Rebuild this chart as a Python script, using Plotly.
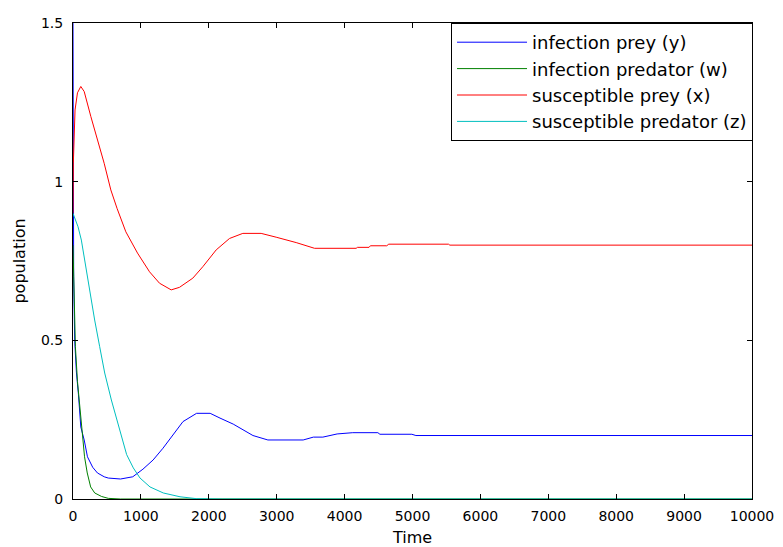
import plotly.graph_objects as go

# ---------------- data ----------------
t_y = [0, 4, 10, 25, 50, 80, 115, 165, 213, 290, 360, 460, 520, 700, 880, 1030, 1180,
       1325, 1470, 1620, 1820, 2020, 2165, 2360, 2650, 2870, 3390, 3540, 3680, 3890,
       4120, 4490, 4520, 4990, 5050, 6300, 6320, 7110, 7130, 10000]
infection_prey = [1.5, 1.0, 0.7, 0.5, 0.40, 0.33, 0.227, 0.186, 0.133, 0.10, 0.082, 0.07,
                  0.066, 0.063, 0.070, 0.094, 0.123, 0.16, 0.20, 0.244, 0.27, 0.27, 0.255,
                  0.236, 0.20, 0.186, 0.186, 0.195, 0.195, 0.205, 0.209, 0.209, 0.204,
                  0.204, 0.20, 0.20, 0.202, 0.202, 0.20, 0.20]

t_w = [0, 15, 35, 66, 125, 147, 170, 210, 260, 320, 420, 520, 700, 10000]
infection_predator = [0.8, 0.6, 0.48, 0.37, 0.227, 0.186, 0.133, 0.082, 0.038, 0.019,
                      0.008, 0.002, 0.0, 0.0]

t_x = [0, 5, 30, 66, 115, 165, 263, 361, 459, 557, 650, 778, 950, 1127, 1274, 1446, 1568,
       1765, 1912, 2109, 2305, 2501, 2771, 2992, 3287, 3557, 4170, 4190, 4360, 4380,
       4620, 4650, 5530, 5550, 10000]
susceptible_prey = [0.9, 1.058, 1.226, 1.28, 1.30, 1.284, 1.205, 1.132, 1.058, 0.974,
                    0.915, 0.842, 0.775, 0.716, 0.68, 0.659, 0.667, 0.696, 0.732, 0.785,
                    0.821, 0.837, 0.837, 0.825, 0.808, 0.79, 0.79, 0.793, 0.793, 0.798,
                    0.798, 0.803, 0.803, 0.80, 0.80]

t_z = [0, 74, 123, 172, 221, 270, 319, 393, 467, 565, 663, 720, 790, 888, 987, 1134,
       1330, 1576, 1820, 2200, 10000]
susceptible_predator = [0.90, 0.858, 0.816, 0.753, 0.69, 0.617, 0.564, 0.48, 0.397, 0.312,
                        0.235, 0.19, 0.14, 0.098, 0.066, 0.038, 0.019, 0.007, 0.001, 0.0, 0.0]

series_names = ["infection prey (y)", "infection predator (w)",
                "susceptible prey (x)", "susceptible predator (z)"]
x_ticks = [0, 1000, 2000, 3000, 4000, 5000, 6000, 7000, 8000, 9000, 10000]
x_tick_labels = [str(v) for v in x_ticks]
y_ticks = [0, 0.5, 1, 1.5]
y_tick_labels = ["0", "0.5", "1", "1.5"]

# ---------------- figure ----------------
colors = ["#0000FF", "#008000", "#FF0000", "#00BFBF"]
series = [(t_y, infection_prey), (t_w, infection_predator),
          (t_x, susceptible_prey), (t_z, susceptible_predator)]

fig = go.Figure()
for (tt, vv), name, c in zip(series, series_names, colors):
    fig.add_trace(go.Scatter(x=tt, y=vv, mode="lines", name=name,
                             line=dict(color=c, width=1)))

axis_common = dict(showline=True, linecolor="black", linewidth=1, mirror="ticks",
                   ticks="inside", ticklen=5, tickcolor="black", tickwidth=1,
                   showgrid=False, zeroline=False, automargin=False,
                   tickfont=dict(family="DejaVu Sans", size=14, color="black"))

fig.update_layout(
    width=783, height=547,
    margin=dict(l=73, r=31, t=23, b=48),
    paper_bgcolor="white", plot_bgcolor="white",
    xaxis=dict(range=[0, 10000], tickvals=x_ticks, ticktext=x_tick_labels,
               ticklabelstandoff=4,
               title=dict(text="Time", standoff=10,
                          font=dict(family="DejaVu Sans", size=16, color="black")),
               **axis_common),
    yaxis=dict(range=[0, 1.5], tickvals=y_ticks, ticktext=y_tick_labels,
               ticklabelstandoff=6,
               title=dict(text="population", standoff=11,
                          font=dict(family="DejaVu Sans", size=16, color="black")),
               **axis_common),
    legend=dict(x=1.0015, y=1, xanchor="right", yanchor="top",
                bgcolor="white", bordercolor="black", borderwidth=1,
                font=dict(family="DejaVu Sans", size=18, color="black"),
                itemwidth=70, tracegroupgap=0),
    showlegend=True,
)

fig.write_html("out.html", config={"displayModeBar": False},
               post_script="document.body.style.margin='0px';")
